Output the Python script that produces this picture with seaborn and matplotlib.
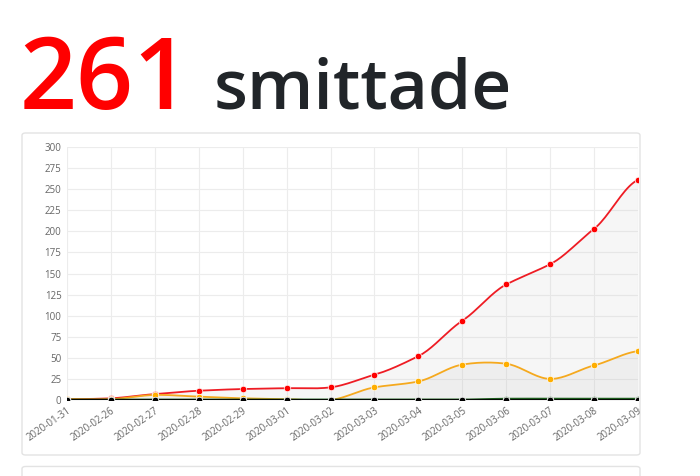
import numpy as np
import pandas as pd
import matplotlib
matplotlib.use("Agg")
import matplotlib.pyplot as plt
import seaborn as sns
from matplotlib.patches import FancyBboxPatch

dates = ["2020-01-31","2020-02-26","2020-02-27","2020-02-28","2020-02-29","2020-03-01",
         "2020-03-02","2020-03-03","2020-03-04","2020-03-05","2020-03-06","2020-03-07",
         "2020-03-08","2020-03-09"]
infected = [1,2,7,11,13,14,15,30,52,94,137,161,203,261]
active = [1,1,6,4,2,1,0,15,22,42,43,25,41,58]
recovered = [0,0,0,0,0,0,0,0,0,0,1,1,1,1]
deaths = [0]*14

sns.set_theme(style="white")
plt.rcParams['font.family'] = ['Open Sans', 'DejaVu Sans']

fig = plt.figure(figsize=(7, 4.76), dpi=100)
fig.text(0.028, 0.772, "261", color="#ff0000", fontsize=72, va="baseline", fontweight="semibold")
fig.text(0.305, 0.772, "smittade", color="#212529", fontsize=50, va="baseline", fontweight="semibold")

fig.patches.append(FancyBboxPatch((22/700, 1-455/476), 618/700, 322/476,
    boxstyle="round,pad=0,rounding_size=0.005", transform=fig.transFigure,
    facecolor="white", edgecolor="#e3e3e3", lw=1, zorder=0))
fig.patches.append(FancyBboxPatch((22/700, -0.05), 618/700, 0.07,
    boxstyle="round,pad=0,rounding_size=0.005", transform=fig.transFigure,
    facecolor="white", edgecolor="#e3e3e3", lw=1, zorder=0))

ax = fig.add_axes([67/700, 1-400/476, 571/700, 253/476])
ax.set_zorder(5)
ax.patch.set_alpha(0)
x = np.arange(len(dates))

def smooth(y, n=20):
    y = np.asarray(y, float)
    p = np.concatenate([[y[0]], y, [y[-1]]])
    xs, ys = [], []
    for i in range(len(y)-1):
        p0, p1, p2, p3 = p[i], p[i+1], p[i+2], p[i+3]
        t = np.linspace(0, 1, n, endpoint=False)
        m1 = (p2-p0)/2*0.8; m2 = (p3-p1)/2*0.8
        h = (2*t**3-3*t**2+1)*p1 + (t**3-2*t**2+t)*m1 + (-2*t**3+3*t**2)*p2 + (t**3-t**2)*m2
        xs.append(i+t); ys.append(h)
    xs.append([len(y)-1]); ys.append([y[-1]])
    return np.concatenate(xs), np.concatenate(ys)

for vals, col, lw in [(infected, "#ee1c24", 1.3), (active, "#f5a91e", 1.3),
                      (recovered, "#1d5c1d", 2.0), (deaths, "#000000", 2.0)]:
    sx, sy = smooth(vals)
    ax.fill_between(sx, sy, color="#bbbbbb", alpha=0.12, lw=0)
    ax.plot(sx, sy, color=col, lw=lw, zorder=3)
    mc = "#ff0000" if col == "#ee1c24" else ("#ffae00" if col == "#f5a91e" else col)
    sns.scatterplot(x=x, y=vals, ax=ax, color=mc, s=22, edgecolor="white", linewidth=0.5, zorder=4)

ax.set_xlim(0, len(dates)-1)
ax.set_ylim(0, 300)
ax.set_yticks(range(0, 301, 25))
ax.set_xticks(x)
ax.set_xticklabels(dates, rotation=35, ha="right", rotation_mode="anchor")
ax.tick_params(labelsize=7, colors="#666666", length=0, pad=4)
ax.grid(True, color="#ececec", lw=0.8)
for s in ax.spines.values():
    s.set_visible(False)
fig.savefig("out.png", dpi=100)
